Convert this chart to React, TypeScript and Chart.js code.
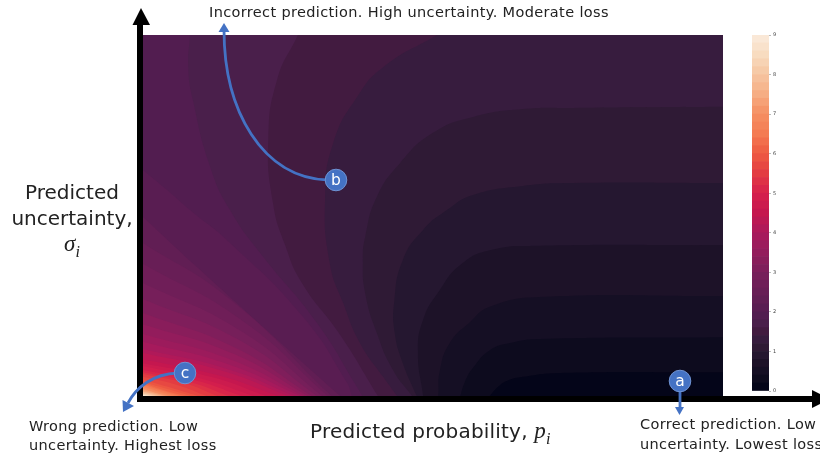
import React, { useEffect, useRef } from "react";
import { Chart, registerables } from "chart.js";

Chart.register(...registerables);

// Colour of the map: value -> colour
const stopValues = [0.1, 0.3, 0.5, 0.7, 0.9, 1.1, 1.3, 1.5, 1.7, 1.9, 3, 4, 4.5, 5, 5.5, 6, 6.5, 7, 7.5, 8, 8.5, 9];
const stopColors = ["#040519", "#0d0b1e", "#150f24", "#1d1228", "#251730", "#2f1a35", "#371c3e", "#421b40", "#4a1f4b", "#521d50", "#7a1f5b", "#ab195c", "#c5174f", "#d6204c", "#e33c42", "#ee5b42", "#f47b53", "#f58f62", "#f6ad83", "#f6c5a1", "#f8dcc0", "#faebdd"];
const barTicks = [0, 1, 2, 3, 4, 5, 6, 7, 8, 9];
const bandStep = 0.2;
const bandCount = 45;

// Contours of the loss as [p, sigma], lower-right family: region where loss < level
const low02 = [[0.598, 0], [0.61, 0.022], [0.628, 0.042], [0.655, 0.053], [0.719, 0.064], [1, 0.066]];
const low04 = [[0.547, 0], [0.555, 0.039], [0.569, 0.078], [0.598, 0.127], [0.633, 0.147], [0.684, 0.158], [1, 0.163]];
const low06 = [[0.509, 0], [0.512, 0.072], [0.529, 0.147], [0.564, 0.205], [0.598, 0.247], [0.684, 0.274], [1, 0.277]];
const low08 = [[0.483, 0], [0.474, 0.119], [0.483, 0.211], [0.512, 0.294], [0.547, 0.363], [0.598, 0.404], [0.684, 0.416], [1, 0.418]];
const low10 = [[0.472, 0], [0.448, 0.091], [0.434, 0.175], [0.433, 0.258], [0.448, 0.377], [0.483, 0.46], [0.524, 0.515], [0.569, 0.557], [0.655, 0.582], [0.741, 0.59], [1, 0.59]];
const low12 = [[0.464, 0], [0.431, 0.072], [0.403, 0.175], [0.383, 0.285], [0.379, 0.377], [0.383, 0.44], [0.403, 0.551], [0.443, 0.645], [0.5, 0.729], [0.569, 0.773], [0.655, 0.795], [0.741, 0.798], [1, 0.801]];
const lowLevels = [1.2, 1.0, 0.8, 0.6, 0.4, 0.2];
const lowContours = [low12, low10, low08, low06, low04, low02];

// Upper-left family: region where loss >= level
const high14 = [[0.507, 1], [0.414, 0.911], [0.369, 0.828], [0.328, 0.701], [0.314, 0.551], [0.322, 0.368], [0.345, 0.258], [0.374, 0.147], [0.414, 0.053], [0.438, 0]];
const high16 = [[0.267, 1], [0.231, 0.875], [0.216, 0.709], [0.224, 0.535], [0.245, 0.418], [0.274, 0.313], [0.34, 0.169], [0.405, 0]];
const high18 = [[0.081, 1], [0.078, 0.911], [0.086, 0.82], [0.116, 0.634], [0.15, 0.515], [0.202, 0.396], [0.3, 0.202], [0.369, 0.025], [0.378, 0]];
const high20 = [[0, 0.626], [0.041, 0.571], [0.081, 0.515], [0.15, 0.424], [0.276, 0.219], [0.352, 0.036], [0.36, 0]];
const high22 = [[0, 0.496], [0.093, 0.357], [0.207, 0.191], [0.334, 0.008], [0.34, 0]];
const high24 = [[0, 0.424], [0.15, 0.268], [0.325, 0]];
const highLevels = [1.4, 1.6, 1.8, 2.0, 2.2, 2.4];
const highContours = [high14, high16, high18, high20, high22, high24];

// The fan of contours running into the lower-left corner
const fanLevels = [2.6, 2.8, 3.0, 3.2, 3.4, 3.6, 3.8, 4.0, 4.2, 4.4, 4.6, 4.8, 5.0, 5.2, 5.4, 5.6, 5.8, 6.0, 6.2, 6.4, 6.6, 6.8, 7.0, 7.2, 7.4, 7.6, 7.8, 8.0, 8.2, 8.4, 8.6, 8.8];
const fanLeftSigma = [0.366, 0.313, 0.269, 0.23, 0.199, 0.172, 0.15, 0.13, 0.119, 0.102, 0.091, 0.083, 0.072, 0.066, 0.061, 0.053, 0.046, 0.039, 0.036, 0.032, 0.028, 0.024, 0.021, 0.018, 0.014, 0.012, 0.011, 0.007, 0.006, 0.004, 0.003, 0.001];
const fanMidP = [0.172, 0.169, 0.166, 0.16, 0.157, 0.153, 0.15, 0.145, 0.138, 0.128, 0.117, 0.103, 0.093, 0.081, 0.071, 0.06, 0.041, 0.036, 0.031, 0.028, 0.024, 0.021, 0.017, 0.016, 0.014, 0.012, 0.01, 0.009, 0.007, 0.005, 0.003, 0.002];
const fanMidSigma = [0.208, 0.18, 0.155, 0.133, 0.116, 0.1, 0.086, 0.075, 0.069, 0.058, 0.053, 0.047, 0.042, 0.039, 0.036, 0.03, 0.026, 0.022, 0.019, 0.017, 0.015, 0.014, 0.012, 0.011, 0.009, 0.008, 0.007, 0.005, 0.004, 0.003, 0.002, 0.001];
const fanBottomP = [0.319, 0.309, 0.3, 0.291, 0.284, 0.278, 0.271, 0.262, 0.25, 0.233, 0.212, 0.19, 0.169, 0.148, 0.128, 0.11, 0.095, 0.083, 0.072, 0.062, 0.055, 0.048, 0.043, 0.038, 0.034, 0.029, 0.024, 0.021, 0.016, 0.012, 0.009, 0.005];

const backgroundBand = 1.3;

const hex = (c: string) => [1, 3, 5].map((i) => parseInt(c.slice(i, i + 2), 16));
function colorOf(v: number) {
  if (v <= stopValues[0]) return stopColors[0];
  for (let i = 1; i < stopValues.length; i++) {
    if (v <= stopValues[i]) {
      const t = (v - stopValues[i - 1]) / (stopValues[i] - stopValues[i - 1]);
      const a = hex(stopColors[i - 1]);
      const b = hex(stopColors[i]);
      return `rgb(${a.map((x, j) => Math.round(x + (b[j] - x) * t)).join(",")})`;
    }
  }
  return stopColors[stopColors.length - 1];
}

// Continue a contour just past the plot edge so the smoothing stays straight there.
function beyond(a: number[], b: number[]) {
  const dx = a[0] - b[0];
  const dy = a[1] - b[1];
  const n = Math.hypot(dx, dy) || 1;
  const e = Math.min(0.02, n);
  return [a[0] + (dx / n) * e, a[1] + (dy / n) * e];
}
function region(c: number[][], corners: number[][]) {
  const pts = [beyond(c[0], c[1]), ...c, beyond(c[c.length - 1], c[c.length - 2]), ...corners];
  return pts.map(([x, y]) => ({ x, y }));
}
const lowCorners = [[1.2, -0.2], [0.2, -0.2]];
const highCorners = [[-0.2, -0.2], [-0.2, 1.2]];

const regionFill = {
  id: "regionFill",
  beforeDatasetsDraw(chart: any) {
    const { ctx, chartArea: a } = chart;
    ctx.save();
    ctx.fillStyle = colorOf(backgroundBand);
    ctx.fillRect(a.left, a.top, a.width, a.height);
    ctx.restore();
  },
  beforeDatasetDraw(chart: any, args: any) {
    const { ctx, chartArea: a } = chart;
    const line = args.meta.dataset;
    line.updateControlPoints(a);
    ctx.save();
    ctx.beginPath();
    ctx.rect(a.left, a.top, a.width, a.height);
    ctx.clip();
    ctx.beginPath();
    line.path(ctx);
    ctx.closePath();
    ctx.fillStyle = args.meta.controller.getDataset().regionColor;
    ctx.fill();
    ctx.restore();
  },
};

const BLUE = "#4472c4";
function arrowHead(ctx: any, tip: number[], a: number[], b: number[]) {
  ctx.beginPath();
  ctx.moveTo(tip[0], tip[1]);
  ctx.lineTo(a[0], a[1]);
  ctx.lineTo(b[0], b[1]);
  ctx.closePath();
  ctx.fill();
}
function badge(ctx: any, x: number, y: number) {
  ctx.beginPath();
  ctx.arc(x, y, 10.8, 0, Math.PI * 2);
  ctx.fillStyle = BLUE;
  ctx.fill();
  ctx.lineWidth = 1;
  ctx.strokeStyle = "#6f92d3";
  ctx.stroke();
}
const overlay = {
  id: "overlay",
  afterDraw(chart: any) {
    const { ctx, chartArea: a } = chart;
    ctx.save();
    // thick axes
    ctx.fillStyle = "#000";
    ctx.fillRect(a.left - 6, 24, 6, a.bottom + 6 - 24);
    ctx.fillRect(a.left - 6, a.bottom, 812 - a.left + 6, 6);
    arrowHead(ctx, [141, 8], [132.5, 25], [150, 25]);
    arrowHead(ctx, [830, 399], [812, 390], [812, 408]);
    // callouts
    ctx.strokeStyle = BLUE;
    ctx.fillStyle = BLUE;
    ctx.lineWidth = 2.8;
    ctx.beginPath();
    ctx.moveTo(328, 180);
    ctx.bezierCurveTo(262, 178, 224, 110, 224, 30);
    ctx.stroke();
    arrowHead(ctx, [224, 23], [218.5, 32], [229.5, 32]);
    ctx.beginPath();
    ctx.moveTo(178, 373);
    ctx.bezierCurveTo(152, 374, 136, 388, 128, 403);
    ctx.stroke();
    arrowHead(ctx, [123, 412], [122.5, 400], [134, 406]);
    ctx.beginPath();
    ctx.moveTo(680, 385);
    ctx.lineTo(680, 408);
    ctx.stroke();
    arrowHead(ctx, [679.5, 415], [675, 407], [684, 407]);
    badge(ctx, 336, 180);
    badge(ctx, 185, 373);
    badge(ctx, 680, 381);
    ctx.restore();
  },
};

const bodyFont = "'DejaVu Sans', sans-serif";
const mathFont = "'Liberation Serif', serif";
function Label(props: { x: number; y: number; size: number; color?: string; center?: boolean; spacing?: number; children: any }) {
  const { x, y, size, color, center, spacing, children } = props;
  return (
    <div
      style={{
        position: "absolute",
        left: x,
        top: y - size,
        height: size * 2,
        lineHeight: `${size * 2}px`,
        fontFamily: bodyFont,
        fontSize: size,
        letterSpacing: spacing || 0,
        color: color || "#222",
        whiteSpace: "nowrap",
        transform: center ? "translateX(-50%)" : undefined,
      }}
    >
      {children}
    </div>
  );
}
function MathVar(props: { v: string; size: number }) {
  return (
    <span style={{ fontFamily: mathFont, fontStyle: "italic", fontSize: props.size }}>
      {props.v}
      <sub style={{ fontSize: props.size * 0.7, lineHeight: 0 }}>i</sub>
    </span>
  );
}

export default function App() {
  const mainRef = useRef<HTMLCanvasElement>(null);
  const barRef = useRef<HTMLCanvasElement>(null);
  useEffect(() => {
    const layers: any[] = [];
    lowContours.forEach((c, i) => layers.push({ data: region(c, lowCorners), color: colorOf(lowLevels[i] - bandStep / 2) }));
    highContours.forEach((c, i) => layers.push({ data: region(c, highCorners), color: colorOf(highLevels[i] + bandStep / 2) }));
    fanLevels.forEach((k, i) =>
      layers.push({
        data: region([[0, fanLeftSigma[i]], [fanMidP[i], fanMidSigma[i]], [fanBottomP[i], 0]], highCorners),
        color: colorOf(k + bandStep / 2),
      })
    );
    const main = new Chart(mainRef.current as any, {
      type: "line",
      data: {
        datasets: layers.map((l, i) => ({
          data: l.data,
          regionColor: l.color,
          order: layers.length - i,
          borderWidth: 0,
          pointRadius: 0,
          tension: 0.5,
          capBezierPoints: false,
          fill: false,
          clip: false,
        })) as any,
      },
      options: {
        responsive: false,
        animation: false,
        events: [],
        layout: { padding: { left: 143, right: 97, top: 35, bottom: 59 } },
        scales: {
          x: { type: "linear", min: 0, max: 1, display: false },
          y: { type: "linear", min: 0, max: 1, display: false },
        },
        plugins: { legend: { display: false }, tooltip: { enabled: false } },
      },
      plugins: [regionFill, overlay],
    } as any);

    const bands = Array.from({ length: bandCount }, (_, i) => i);
    const bar = new Chart(barRef.current as any, {
      type: "bar",
      data: {
        labels: [""],
        datasets: bands.map((i) => ({
          data: [bandStep],
          backgroundColor: colorOf((i + 0.5) * bandStep),
          borderWidth: 0,
          barPercentage: 1,
          categoryPercentage: 1,
        })),
      },
      options: {
        responsive: false,
        animation: false,
        events: [],
        layout: { padding: { top: 5, bottom: 5, left: 0, right: 0 } },
        scales: {
          x: { stacked: true, display: false },
          y: {
            stacked: true,
            position: "right",
            min: 0,
            max: 9,
            border: { display: false },
            grid: { display: true, drawOnChartArea: false, drawTicks: true, tickLength: 2, tickColor: "#777", tickWidth: 0.5 },
            afterFit: (s: any) => { s.width = 23; },
            afterBuildTicks: (s: any) => { s.ticks = barTicks.map((value) => ({ value })); },
            ticks: { font: { size: 5, family: "'DejaVu Sans'" }, color: "#444", padding: 2, autoSkip: false },
          },
        },
        plugins: { legend: { display: false }, tooltip: { enabled: false } },
      },
    } as any);
    return () => {
      main.destroy();
      bar.destroy();
    };
  }, []);

  return (
    <div style={{ position: "absolute", left: 0, top: 0, width: 820, height: 455, overflow: "hidden", background: "#fff" }}>
      <canvas ref={mainRef} width={820} height={455} style={{ position: "absolute", left: 0, top: 0 }} />
      <canvas ref={barRef} width={40} height={366} style={{ position: "absolute", left: 752, top: 30 }} />
      <Label x={209} y={12} size={14.5} spacing={0.36}>Incorrect prediction. High uncertainty. Moderate loss</Label>
      <Label x={29} y={426} size={14.5} spacing={0.36}>Wrong prediction. Low</Label>
      <Label x={29} y={445} size={14.5} spacing={0.36}>uncertainty. Highest loss</Label>
      <Label x={640} y={424} size={14.5} spacing={0.36}>Correct prediction. Low</Label>
      <Label x={640} y={444} size={14.5} spacing={0.36}>uncertainty. Lowest loss</Label>
      <Label x={310} y={431} size={20} spacing={0.2}>Predicted probability, <MathVar v="p" size={23} /></Label>
      <Label x={72} y={192} size={20} center>Predicted</Label>
      <Label x={72} y={218} size={20} center>uncertainty,</Label>
      <Label x={72} y={244} size={20} center><MathVar v="σ" size={23} /></Label>
      <Label x={336} y={180} size={15.5} color="#fff" center>b</Label>
      <Label x={185} y={373} size={15.5} color="#fff" center>c</Label>
      <Label x={680} y={381} size={15.5} color="#fff" center>a</Label>
    </div>
  );
}
